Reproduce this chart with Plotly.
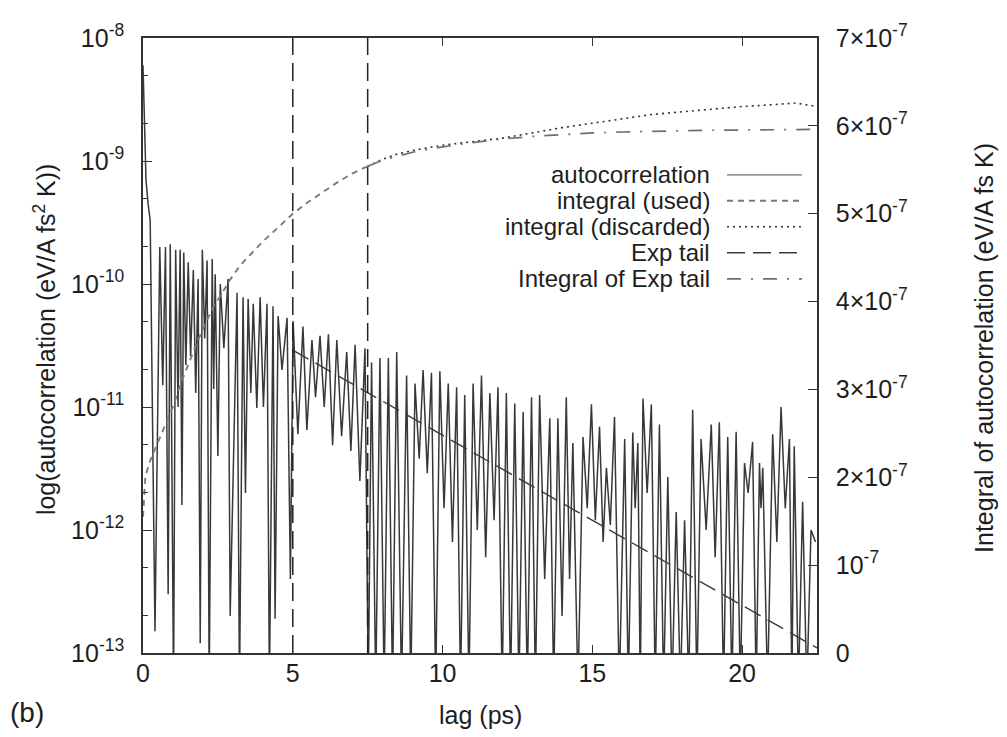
import plotly.graph_objects as go

# ---------------- data ----------------
auto_t = [0.00, 0.05, 0.10, 0.17, 0.24, 0.40, 0.56, 0.66, 0.75, 0.84, 0.91, 1.02, 1.09, 1.17, 1.24, 1.30,
          1.36, 1.43, 1.51, 1.59, 1.68, 1.76, 1.84, 1.91, 1.98, 2.06, 2.14, 2.21, 2.31, 2.36, 2.41, 2.50,
          2.58, 2.70, 2.84, 2.91, 3.14, 3.22, 3.34, 3.42, 3.51, 3.60, 3.68, 3.80, 3.91, 4.02, 4.14, 4.22,
          4.34, 4.41, 4.51, 4.64, 4.81, 4.92, 5.01, 5.17, 5.34, 5.47, 5.64, 5.76, 5.91,
          6.05, 6.19, 6.33, 6.47, 6.63, 6.80, 6.94, 7.08, 7.24, 7.41, 7.52, 7.63, 7.77, 7.91, 8.05, 8.19,
          8.33, 8.47, 8.63, 8.80, 8.94, 9.08, 9.22, 9.35, 9.49, 9.63, 9.77, 9.91, 10.05, 10.19, 10.33,
          10.47, 10.60, 10.74, 10.88, 11.02, 11.16, 11.30, 11.44, 11.58, 11.72, 11.85, 11.99, 12.13,
          12.27, 12.41, 12.55, 12.69, 12.83, 12.97, 13.10, 13.24, 13.41, 13.58, 13.71, 13.85, 13.99, 14.13,
          14.24, 14.35, 14.52, 14.69, 14.83, 14.97, 15.10, 15.24, 15.36, 15.47, 15.60, 15.74, 15.90,
          16.08, 16.20, 16.35, 16.43, 16.52, 16.60, 16.69, 16.83, 16.97, 17.10, 17.24, 17.38, 17.52,
          17.66, 17.80, 17.94, 18.08, 18.22, 18.35, 18.49, 18.63, 18.80, 18.97, 19.10, 19.24, 19.38,
          19.52, 19.66, 19.80, 19.94, 20.08, 20.20, 20.35, 20.47, 20.58, 20.63, 20.69, 20.85, 21.02,
          21.16, 21.30, 21.44, 21.58, 21.66, 21.74, 21.88, 22.02, 22.16, 22.30, 22.45]
auto_v = [6.0e-9, 1.6e-9, 7.0e-10, 4.5e-10, 3.3e-10, 1.5e-13, 2.0e-10, 1.5e-11, 2.0e-10, 3.0e-13, 2.1e-10,
          5.0e-14, 1.9e-10, 1.0e-11, 1.9e-10, 1.6e-12, 1.8e-10, 2.2e-11, 1.5e-10, 2.6e-11, 1.3e-10, 1.3e-11,
          1.1e-10, 1.2e-13, 1.9e-10, 3.6e-11, 1.55e-10, 5.0e-14, 1.6e-10, 1.4e-11, 1.2e-10, 4.0e-12, 1.0e-10,
          3.0e-11, 1.1e-10, 2.0e-13, 8.5e-11, 5.0e-14, 7.8e-11, 2.0e-12, 7.6e-11, 1.3e-11, 6.9e-11, 9.8e-12,
          7.8e-11, 1.0e-11, 6.9e-11, 5.0e-14, 6.6e-11, 1.9e-13, 5.5e-11, 2.0e-11, 5.3e-11, 4.0e-13, 5.0e-11,
          6.0e-12, 4.5e-11, 6.5e-12, 3.5e-11, 1.2e-11, 3.8e-11,
          1.0e-11, 3.9e-11, 4.9e-12, 3.5e-11, 5.8e-12, 2.8e-11, 4.4e-12, 3.2e-11, 2.5e-12, 3.0e-11, 5.0e-14,
          2.3e-11, 5.0e-14, 2.5e-11, 5.0e-14, 2.5e-11, 5.0e-14, 2.8e-11, 5.0e-14, 1.8e-11, 5.0e-14, 1.55e-11,
          3.8e-12, 2.0e-11, 2.9e-12, 1.9e-11, 5.0e-14, 1.95e-11, 1.5e-12, 1.55e-11, 8.0e-13, 1.45e-11, 5.0e-14,
          1.25e-11, 5.0e-14, 1.55e-11, 1.0e-12, 1.8e-11, 6.0e-13, 1.3e-11, 1.2e-12, 1.45e-11, 5.0e-14, 1.3e-11,
          5.0e-14, 1.07e-11, 5.0e-14, 9.1e-12, 5.0e-14, 1.2e-11, 5.0e-14, 1.25e-11, 4.0e-13, 8.1e-12, 5.0e-14,
          8.1e-12, 2.0e-13, 1.2e-11,
          4.0e-13, 5.1e-12, 5.0e-14, 5.7e-12, 1.5e-12, 1.05e-11, 1.2e-12, 6.9e-12, 8.0e-13, 3.2e-12, 1.1e-12,
          8.3e-12, 5.0e-14, 5.5e-12, 5.0e-14, 6.2e-12, 1.5e-12, 5.1e-12, 5.0e-14, 1.17e-11, 2.0e-12, 1.05e-11,
          5.0e-14, 7.2e-12, 5.0e-14, 2.7e-12, 5.0e-14, 1.4e-12, 5.0e-14, 1.2e-12, 5.0e-14, 9.5e-12, 5.0e-14,
          5.5e-12, 1.0e-12, 7.2e-12, 6.0e-13, 7.5e-12, 5.0e-14, 5.7e-12, 5.0e-14, 6.3e-12, 5.0e-14, 3.5e-12,
          2.0e-12, 5.2e-12, 5.0e-14, 3.5e-12, 1.5e-12, 3.2e-12, 5.0e-14, 6.0e-12, 8.0e-13, 1.0e-11, 1.5e-12,
          5.5e-12, 5.0e-14, 4.8e-12, 5.0e-14, 1.7e-12, 5.0e-14, 1.0e-12, 8.0e-13]

int_used_t = [0.0, 0.08, 0.24, 0.47, 0.8, 1.02, 1.24, 1.52, 1.8, 2.08, 2.35, 2.63, 2.91, 3.24, 3.57,
              4.02, 4.47, 5.0, 5.5, 6.0, 6.5, 7.0, 7.5]
int_used_v = [1.55e-7, 2.01e-7, 2.19e-7, 2.37e-7, 2.63e-7, 2.82e-7, 3.05e-7, 3.30e-7, 3.53e-7, 3.75e-7,
              3.94e-7, 4.09e-7, 4.25e-7, 4.41e-7, 4.53e-7, 4.69e-7, 4.83e-7, 5.0e-7, 5.13e-7, 5.25e-7,
              5.36e-7, 5.46e-7, 5.54e-7]

int_disc_t = [7.5, 8.0, 8.5, 9.0, 10.0, 11.0, 12.0, 13.0, 14.0, 15.0, 16.0, 17.0, 18.0, 19.0, 20.0,
              21.0, 21.8, 22.5]
int_disc_v = [5.54e-7, 5.62e-7, 5.68e-7, 5.72e-7, 5.78e-7, 5.82e-7, 5.86e-7, 5.92e-7, 5.98e-7, 6.03e-7,
              6.08e-7, 6.13e-7, 6.16e-7, 6.19e-7, 6.22e-7, 6.24e-7, 6.26e-7, 6.22e-7]

int_exp_t = [7.5, 8.0, 9.0, 10.0, 11.0, 12.0, 13.0, 14.0, 15.0, 16.0, 17.0, 18.0, 19.0, 20.0, 21.0, 22.5]
int_exp_v = [5.54e-7, 5.61e-7, 5.70e-7, 5.76e-7, 5.81e-7, 5.85e-7, 5.88e-7, 5.90e-7, 5.92e-7, 5.93e-7,
             5.94e-7, 5.945e-7, 5.95e-7, 5.955e-7, 5.96e-7, 5.96e-7]

exp_t = [5.0, 22.5]
exp_v = [2.9e-11, 1.1e-13]

cutoffs = [5.0, 7.5]

x_ticks = [0, 5, 10, 15, 20]
y_ticks = [1e-13, 1e-12, 1e-11, 1e-10, 1e-9, 1e-8]
y_ticktext = ["10<sup>-13</sup>", "10<sup>-12</sup>", "10<sup>-11</sup>", "10<sup>-10</sup>",
              "10<sup>-9</sup>", "10<sup>-8</sup>"]
y2_ticks = [0, 1e-7, 2e-7, 3e-7, 4e-7, 5e-7, 6e-7, 7e-7]
y2_ticktext = ["0", "10<sup>-7</sup>", "2\u00d710<sup>-7</sup>", "3\u00d710<sup>-7</sup>",
               "4\u00d710<sup>-7</sup>", "5\u00d710<sup>-7</sup>", "6\u00d710<sup>-7</sup>",
               "7\u00d710<sup>-7</sup>"]

legend_names = ["autocorrelation", "integral (used)", "integral (discarded)", "Exp tail",
                "Integral of Exp tail"]

# ---------------- styles ----------------
FONT = "Liberation Sans, Arial, Helvetica, sans-serif"
FS = 25
FS_LEG = 24
TXT = "#1e1e1e"
C_AUTO = "#383838"
C_USED = "#7a7a7a"
C_DISC = "#333333"
C_EXP = "#3a3a3a"
C_IEXP = "#707070"
D_USED = "6px,5px"
D_DISC = "2px,4px"
D_EXP = "18px,8px"
D_IEXP = "14px,10px,2px,10px"

# the page body has an 8px margin: the figure is sized/placed to compensate
OFF = 8
PAGE_W, PAGE_H = 1007, 737
FIG_W, FIG_H = PAGE_W - 2 * OFF, PAGE_H - 2 * OFF
PL, PR, PT, PB = 143, 817, 26, 653          # plot area in page pixels
W, H = PR - PL, PB - PT

def px(xp):
    return (xp - PL) / W

def py(yp):
    return (PB - yp) / H

fig = go.Figure()

fig.add_trace(go.Scatter(x=auto_t, y=auto_v, mode="lines", name=legend_names[0],
                         line=dict(color=C_AUTO, width=1.5), yaxis="y", showlegend=False))
fig.add_trace(go.Scatter(x=exp_t, y=exp_v, mode="lines", name=legend_names[3],
                         line=dict(color=C_EXP, width=1.4, dash=D_EXP), yaxis="y", showlegend=False))
fig.add_trace(go.Scatter(x=int_used_t, y=int_used_v, mode="lines", name=legend_names[1],
                         line=dict(color=C_USED, width=1.9, dash=D_USED), yaxis="y2", showlegend=False))
fig.add_trace(go.Scatter(x=int_disc_t, y=int_disc_v, mode="lines", name=legend_names[2],
                         line=dict(color=C_DISC, width=1.6, dash=D_DISC), yaxis="y2", showlegend=False))
fig.add_trace(go.Scatter(x=int_exp_t, y=int_exp_v, mode="lines", name=legend_names[4],
                         line=dict(color=C_IEXP, width=1.7, dash=D_IEXP), yaxis="y2", showlegend=False))

for c in cutoffs:
    fig.add_shape(type="line", xref="x", yref="paper", x0=c, x1=c, y0=0, y1=1,
                  line=dict(color="#222222", width=1.5, dash=D_EXP))

# ---------------- manual legend (text left, sample right, like gnuplot) ----------------
leg_rows = [165.5, 192, 218.5, 245, 271.5]
leg_styles = [("#999999", "solid", 1.8), (C_USED, D_USED, 1.9), (C_DISC, D_DISC, 1.6),
              (C_EXP, D_EXP, 1.5), (C_IEXP, D_IEXP, 1.7)]
annotations = []
for name, row, (col, dash, wd) in zip(legend_names, leg_rows, leg_styles):
    annotations.append(dict(x=px(712), y=py(row), xref="paper", yref="paper", text=name,
                            showarrow=False, xanchor="right", yanchor="middle",
                            font=dict(family=FONT, size=FS_LEG, color=TXT)))
    fig.add_shape(type="line", xref="paper", yref="paper", x0=px(727), x1=px(802),
                  y0=py(row), y1=py(row), line=dict(color=col, width=wd, dash=dash))

annotations += [
    dict(x=px(45), y=py(333), xref="paper", yref="paper", textangle=-90, showarrow=False,
         text="log(autocorrelation (eV/A fs<sup>2</sup> K))", xanchor="center", yanchor="middle",
         font=dict(family=FONT, size=FS, color=TXT)),
    dict(x=px(984), y=py(342), xref="paper", yref="paper", textangle=-90, showarrow=False,
         text="Integral of autocorrelation (eV/A fs K)", xanchor="center", yanchor="middle",
         font=dict(family=FONT, size=FS, color=TXT)),
    dict(x=px(480), y=py(716), xref="paper", yref="paper", showarrow=False, text="lag (ps)",
         xanchor="center", yanchor="middle", font=dict(family=FONT, size=FS, color=TXT)),
    dict(x=px(27), y=py(714), xref="paper", yref="paper", showarrow=False, text="(b)",
         xanchor="center", yanchor="middle", font=dict(family=FONT, size=28, color=TXT)),
]

minor_vals = []
for dec in [1e-13, 1e-12, 1e-11, 1e-10, 1e-9]:
    minor_vals += [2 * dec, 5 * dec]

fig.update_layout(
    width=FIG_W, height=FIG_H,
    margin=dict(l=PL - OFF, r=(OFF + FIG_W) - PR, t=PT - OFF, b=(OFF + FIG_H) - PB),
    paper_bgcolor="white", plot_bgcolor="white",
    font=dict(family=FONT, size=FS, color=TXT),
    showlegend=False,
    xaxis=dict(range=[0, 22.5], tickvals=x_ticks, ticks="inside", ticklen=8, tickwidth=1.2,
               tickcolor="#333333", showline=True, linecolor="#333333", linewidth=1.6,
               mirror="ticks", showgrid=False, zeroline=False,
               tickfont=dict(family=FONT, size=FS, color=TXT), ticklabelstandoff=-3),
    yaxis=dict(type="log", range=[-13, -8], tickvals=y_ticks, ticktext=y_ticktext,
               ticks="inside", ticklen=9, tickwidth=1.2, tickcolor="#333333",
               minor=dict(tickvals=minor_vals, ticks="inside", ticklen=5, tickcolor="#333333"),
               showline=True, linecolor="#333333", linewidth=1.6, showgrid=False, zeroline=False,
               tickfont=dict(family=FONT, size=FS, color=TXT), ticklabelstandoff=12),
    yaxis2=dict(overlaying="y", side="right", range=[0, 7e-7], tickvals=y2_ticks,
                ticktext=y2_ticktext, ticks="inside", ticklen=9, tickwidth=1.2, tickcolor="#333333",
                showline=True, linecolor="#333333", linewidth=1.6, showgrid=False, zeroline=False,
                tickfont=dict(family=FONT, size=FS, color=TXT), ticklabelstandoff=12),
    annotations=annotations,
)

fig.write_html("out.html")
